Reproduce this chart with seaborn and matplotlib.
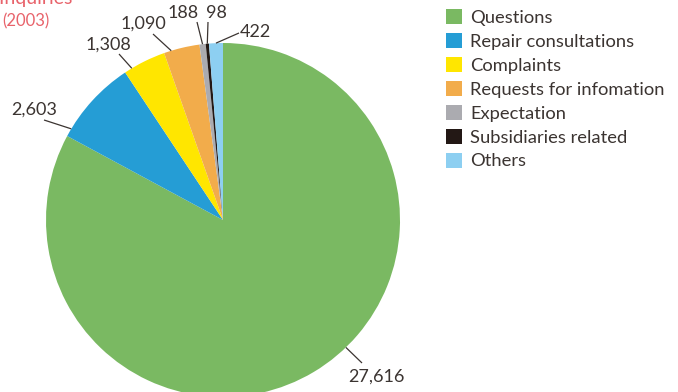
import matplotlib
matplotlib.use("Agg")
import matplotlib.pyplot as plt
import seaborn as sns
import numpy as np

# Inquiry counts by category (2003)
categories = ["Questions", "Repair consultations", "Complaints",
              "Requests for infomation", "Expectation",
              "Subsidiaries related", "Others"]
counts = [27616, 2603, 1308, 1090, 188, 98, 422]
value_labels = ["27,616", "2,603", "1,308", "1,090", "188", "98", "422"]
colors = ["#7AB962", "#259DD5", "#FFE600", "#F2AC4B",
          "#ABABB0", "#231815", "#8DCFF1"]

sns.set_theme(style="white")
plt.rcParams["font.family"] = ["Lato", "DejaVu Sans"]

W, H = 678, 392
fig = plt.figure(figsize=(W / 100, H / 100), dpi=100)
ax = fig.add_axes([0, 0, 1, 1])

cx, cy, R = 223, H - 220, 177
wedges, _ = ax.pie(counts, colors=colors, startangle=90, counterclock=False,
                   center=(cx, cy), radius=R,
                   wedgeprops=dict(linewidth=0, antialiased=True),
                   frame=True)
ax.set_xlim(0, W)
ax.set_ylim(0, H)
ax.set_aspect("equal")
ax.axis("off")

text_color = "#3B3431"

# label layout: text centre (px, y down), leader start (px, y down),
# and where along each wedge the leader touches the rim
layout = [
    ((376, 377), (362, 363), 0.544),
    ((34, 110), (44, 120), 0.905),
    ((108, 45), (119, 54), 0.82),
    ((143, 24), (153, 34), 0.795),
    ((183, 13), (197, 22), 0.5),
    ((216, 13), (208, 22), 0.5),
    ((255, 32), (239, 33), 0.5),
]
for w, lab, (tpos, lstart, frac) in zip(wedges, value_labels, layout):
    ang = np.deg2rad(w.theta1 + frac * (w.theta2 - w.theta1))
    ex, ey = cx + R * np.cos(ang), cy + R * np.sin(ang)
    ax.plot([lstart[0], ex], [H - lstart[1], ey], color=text_color, lw=0.9,
            solid_capstyle="butt")
    ax.text(tpos[0], H - tpos[1], lab, ha="center", va="center",
            fontsize=13, color=text_color)

leg = ax.legend(wedges, categories, loc="upper left",
                bbox_to_anchor=(444 / W, 1 - 7.5 / H), frameon=False,
                fontsize=13.2, handlelength=0.88, handleheight=0.88,
                handletextpad=0.45, labelspacing=0.385, borderaxespad=0,
                borderpad=0.1)
for t in leg.get_texts():
    t.set_color(text_color)

title_color = "#E8636B"
fig.text(72 / W, 1 - 4 / H, "Number of Inquiries", ha="right", va="baseline",
         fontsize=14, color=title_color)
fig.text(2 / W, 1 - 26 / H, "(2003)", ha="left", va="baseline",
         fontsize=12, color=title_color)

fig.savefig("out.png", dpi=100)
